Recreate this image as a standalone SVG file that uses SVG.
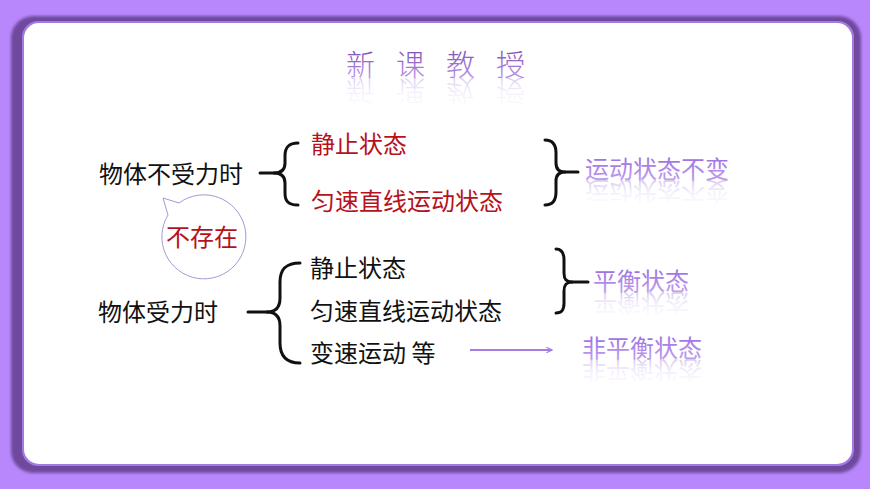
<svg xmlns="http://www.w3.org/2000/svg" width="870" height="489" viewBox="0 0 870 489">
<defs>
<filter id="blur" x="-5%" y="-5%" width="110%" height="110%"><feGaussianBlur stdDeviation="1.5"/></filter>
<linearGradient id="gTitle" x1="0" y1="0" x2="0" y2="1">
<stop offset="0" stop-color="#6E3AA8"/><stop offset="1" stop-color="#C7A4F2"/>
</linearGradient>
<linearGradient id="gPur" x1="0" y1="0" x2="0" y2="1">
<stop offset="0" stop-color="#9060DC"/><stop offset="1" stop-color="#C8A8F4"/>
</linearGradient>
<linearGradient id="gRef" x1="0" y1="0" x2="0" y2="1">
<stop offset="0" stop-color="#B898E8" stop-opacity="0"/><stop offset="0.5" stop-color="#B898E8" stop-opacity="0.15"/><stop offset="1" stop-color="#9A80C8" stop-opacity="0.55"/>
</linearGradient>
<marker id="arr" viewBox="0 0 10 10" refX="9" refY="5" markerWidth="7" markerHeight="7" orient="auto" markerUnits="userSpaceOnUse">
<path d="M1,1 L9,5 L1,9" fill="none" stroke="#A77CE6" stroke-width="1.6"/>
</marker>
</defs>
<style>
.t{font-family:"Noto Sans CJK SC","Microsoft YaHei",sans-serif;font-size:24px}
.blk{fill:#111}
.red{fill:#B5121B}
.pur{fill:url(#gPur)}
.ref{fill:url(#gRef)}
.brace{fill:none;stroke:#111;stroke-width:3;stroke-linecap:round;stroke-linejoin:round}
</style>
<rect width="870" height="489" fill="#B987FC"/>
<g id="frame">
<rect x="11" y="16" width="850" height="457" rx="22" fill="#6E4A9E" filter="url(#blur)"/>
<rect x="22" y="21" width="832" height="445" rx="16" fill="#A47AE2"/>
<rect x="24" y="23" width="828" height="441" rx="15" fill="#FFFFFF"/>
</g>
<g id="title">
<text x="446" y="76" text-anchor="middle" class="t" style="font-size:29px;letter-spacing:21px;font-weight:300" fill="url(#gTitle)">新课教授</text>
<text transform="translate(0,155) scale(1,-1)" x="446" y="76" text-anchor="middle" class="t ref" style="font-size:29px;letter-spacing:21px;font-weight:300" aria-hidden="true">新课教授</text>
</g>
<g id="connectors">
<path class="brace" d="M298,143 C288,143 285,148 285,156 L285,163 C285,170 281,173 274,173 C281,173 285,176 285,183 L285,193 C285,201 288,205 298,205"/>
<path class="brace" d="M260,173 L275,173"/>
<path class="brace" d="M300,263 C285,263 280,270 280,282 L280,298 C280,307 276,312 267,312 C276,312 280,317 280,326 L280,343 C280,355 285,363 300,363"/>
<path class="brace" d="M248,312 L268,312"/>
<path class="brace" d="M545,140 C553,140 556,145 556,153 L556,163 C556,169 559,172 565,172 C559,172 556,175 556,181 L556,192 C556,200 553,205 545,205"/>
<path class="brace" d="M565,172 L578,172"/>
<path class="brace" d="M556,249 C562,249 564,253 564,260 L564,273 C564,279 566,282 572,282 C566,282 564,285 564,291 L564,303 C564,310 562,313 556,313"/>
<path class="brace" d="M572,282 L588,282"/>
<path d="M470,350 L552,350" fill="none" stroke="#A77CE6" stroke-width="2" marker-end="url(#arr)"/>
</g>
<g id="n-nonforce"><text x="99" y="183" class="t blk">物体不受力时</text></g>
<g id="n-rest1"><text x="311" y="153" class="t red">静止状态</text></g>
<g id="n-uniform1"><text x="311" y="210" class="t red">匀速直线运动状态</text></g>
<g id="n-bubble">
<path d="M163,198 L179,203 A42,42 0 1 1 168,215 Z" fill="#FFFFFF" stroke="#A898D4" stroke-width="1"/>
<text x="166" y="246" class="t red">不存在</text>
</g>
<g id="n-unchanged">
<text x="585" y="178" class="t pur">运动状态不变</text>
<text transform="translate(0,360) scale(1,-1)" x="585" y="178" class="t ref" aria-hidden="true">运动状态不变</text>
</g>
<g id="n-force"><text x="98" y="321" class="t blk">物体受力时</text></g>
<g id="n-rest2"><text x="310" y="277" class="t blk">静止状态</text></g>
<g id="n-uniform2"><text x="310" y="320" class="t blk">匀速直线运动状态</text></g>
<g id="n-variable"><text x="310" y="362" class="t blk">变速运动 等</text></g>
<g id="n-balance">
<text x="593" y="290" class="t pur">平衡状态</text>
<text transform="translate(0,584) scale(1,-1)" x="593" y="290" class="t ref" aria-hidden="true">平衡状态</text>
</g>
<g id="n-unbalance">
<text x="582" y="357" class="t pur">非平衡状态</text>
<text transform="translate(0,718) scale(1,-1)" x="582" y="357" class="t ref" aria-hidden="true">非平衡状态</text>
</g>
</svg>
